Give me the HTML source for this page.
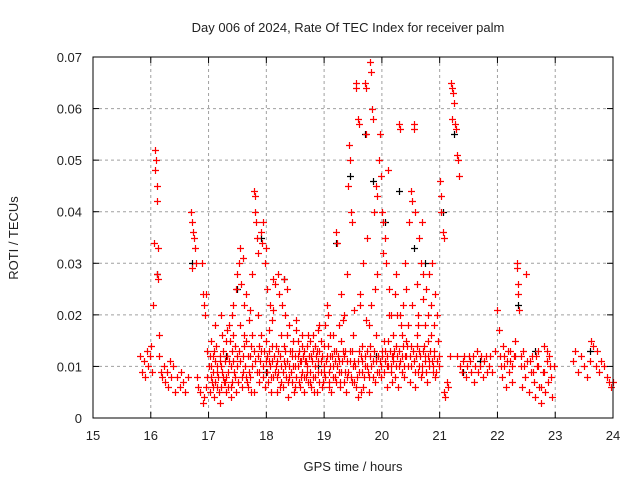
<!DOCTYPE html>
<html><head><meta charset="utf-8"><style>
body{margin:0;background:#fff}
svg text{font-family:"Liberation Sans",sans-serif;font-size:13px;fill:#222}
</style></head><body>
<svg width="640" height="480" id="c">
<text x="348" y="32" text-anchor="middle">Day 006 of 2024, Rate Of TEC Index for receiver palm</text>
<text x="353" y="471" text-anchor="middle">GPS time / hours</text>
<text transform="translate(18,238) rotate(-90)" text-anchor="middle">ROTI / TECUs</text>
<g id="grid"></g><g id="pts"></g><g id="axes"></g>
</svg>
<script>
const xTicks=[15,16,17,18,19,20,21,22,23,24];
const yTicks=[0,0.01,0.02,0.03,0.04,0.05,0.06,0.07];
const yTickLabels=["0","0.01","0.02","0.03","0.04","0.05","0.06","0.07"];
// red series: flattened [hour, roti] pairs
const redPts=[
15.82,0.012,15.85,0.009,15.88,0.011,15.9,0.008,15.93,0.013,15.95,0.01,15.98,0.012,16.0,0.014,16.02,0.009,16.03,0.022,16.05,0.034,16.08,0.052,16.09,0.05,16.08,0.048,16.1,0.045,16.11,0.042,16.12,0.033,16.1,0.028,16.13,0.027,16.14,0.016,16.15,0.012,16.18,0.009,16.2,0.008,16.23,0.01,16.25,0.007,16.28,0.009,16.3,0.006,16.33,0.011,16.35,0.008,16.38,0.01,16.42,0.005,16.45,0.008,16.5,0.006,16.52,0.009,16.55,0.007,16.6,0.005,16.65,0.008,16.7,0.04,16.72,0.038,16.73,0.036,16.75,0.035,16.77,0.033,16.72,0.029,16.78,0.03,16.8,0.008,16.82,0.006,16.85,0.005,16.88,0.03,16.9,0.024,16.92,0.022,16.93,0.02,16.95,0.024,16.98,0.013,
16.9,0.003,16.92,0.004,16.95,0.006,16.97,0.008,17.0,0.01,17.02,0.005,17.03,0.012,17.05,0.015,17.06,0.007,17.08,0.009,17.1,0.004,17.12,0.011,17.13,0.014,17.15,0.006,17.17,0.008,17.2,0.003,17.22,0.01,17.23,0.016,17.25,0.013,17.27,0.007,17.3,0.005,17.32,0.012,17.33,0.009,17.35,0.018,17.37,0.015,17.38,0.004,17.4,0.02,17.42,0.022,17.43,0.011,17.45,0.008,17.47,0.025,17.5,0.028,17.52,0.03,17.53,0.013,17.55,0.033,17.57,0.026,17.58,0.006,17.6,0.031,17.62,0.016,17.63,0.01,17.65,0.024,17.67,0.007,17.7,0.019,17.72,0.012,17.74,0.005,17.75,0.028,17.78,0.044,17.8,0.043,17.81,0.04,17.82,0.038,17.83,0.035,17.85,0.032,17.87,0.014,17.88,0.009,17.9,0.036,17.92,0.034,17.95,0.038,17.97,0.03,18.0,0.033,18.02,0.012,18.03,0.007,18.05,0.017,18.07,0.022,18.08,0.005,18.1,0.011,18.12,0.027,18.15,0.026,18.17,0.014,18.18,0.008,18.2,0.028,18.22,0.024,18.23,0.006,18.25,0.016,18.27,0.022,18.3,0.027,18.32,0.01,18.33,0.013,18.35,0.025,18.37,0.004,18.4,0.018,18.42,0.009,18.45,0.012,18.47,0.015,18.5,0.006,18.52,0.019,18.55,0.01,18.57,0.013,18.6,0.008,18.62,0.016,18.65,0.005,18.67,0.011,18.7,0.014,18.72,0.007,18.75,0.009,18.77,0.012,18.8,0.016,18.82,0.005,18.85,0.01,18.87,0.013,18.9,0.017,18.92,0.007,18.95,0.011,18.97,0.006,19.0,0.014,19.02,0.018,19.05,0.022,19.07,0.02,19.08,0.009,19.1,0.012,19.12,0.005,19.15,0.016,19.17,0.013,19.2,0.036,19.22,0.034,19.23,0.01,19.25,0.018,19.27,0.007,19.3,0.024,19.32,0.013,19.35,0.02,19.37,0.009,19.4,0.028,19.42,0.045,19.43,0.053,19.45,0.05,19.47,0.04,19.48,0.038,19.5,0.016,19.52,0.011,19.55,0.065,19.56,0.064,19.58,0.058,19.6,0.057,19.62,0.022,19.63,0.005,19.65,0.014,19.67,0.03,19.7,0.065,19.72,0.064,19.73,0.055,19.75,0.035,19.77,0.018,19.78,0.008,19.8,0.069,19.82,0.067,19.83,0.06,19.85,0.058,19.87,0.04,19.88,0.025,19.9,0.045,19.92,0.043,19.93,0.012,19.95,0.05,19.97,0.055,19.98,0.047,20.0,0.04,20.02,0.038,20.03,0.015,20.05,0.035,20.07,0.03,20.08,0.01,20.1,0.048,20.12,0.025,20.15,0.02,20.17,0.012,20.2,0.016,20.22,0.008,20.25,0.028,20.27,0.02,20.3,0.057,20.32,0.056,20.33,0.018,20.35,0.012,20.37,0.022,20.4,0.03,20.42,0.015,20.45,0.01,20.47,0.038,20.5,0.044,20.52,0.042,20.55,0.057,20.56,0.056,20.58,0.04,20.6,0.026,20.62,0.02,20.63,0.009,20.65,0.035,20.67,0.03,20.7,0.038,20.72,0.028,20.73,0.014,20.75,0.018,20.77,0.025,20.8,0.02,20.82,0.011,20.85,0.016,20.87,0.03,20.9,0.013,20.92,0.008,20.95,0.011,20.97,0.015,21.0,0.046,21.02,0.043,21.03,0.04,21.05,0.036,21.07,0.035,21.08,0.005,21.1,0.004,21.12,0.007,21.15,0.006,21.18,0.012,21.2,0.065,21.22,0.064,21.23,0.063,21.25,0.061,21.22,0.058,21.27,0.057,21.28,0.056,21.3,0.051,21.32,0.05,21.33,0.047,21.3,0.012,21.35,0.01,21.38,0.009,21.4,0.011,21.45,0.008,21.5,0.012,21.55,0.009,21.6,0.007,21.65,0.013,21.7,0.01,21.75,0.008,21.8,0.012,21.85,0.01,21.9,0.009,21.95,0.013,22.0,0.021,22.02,0.017,22.05,0.012,22.08,0.008,22.1,0.014,22.12,0.01,22.15,0.006,22.18,0.013,22.2,0.009,22.22,0.011,22.25,0.007,22.28,0.012,22.3,0.015,22.33,0.03,22.34,0.029,22.35,0.026,22.36,0.024,22.37,0.021,22.4,0.01,22.42,0.006,22.45,0.013,22.48,0.008,22.5,0.028,22.52,0.011,22.55,0.005,22.58,0.009,22.6,0.012,22.63,0.007,22.65,0.004,22.68,0.01,22.7,0.013,22.72,0.006,22.75,0.003,22.78,0.009,22.8,0.014,22.82,0.005,22.85,0.011,22.88,0.007,22.9,0.012,22.93,0.008,22.95,0.004,22.98,0.01,23.3,0.011,23.35,0.013,23.4,0.009,23.45,0.012,23.5,0.01,23.55,0.008,23.6,0.011,23.62,0.015,23.65,0.014,23.7,0.01,23.72,0.013,23.75,0.009,23.8,0.011,23.85,0.01,23.9,0.008,23.93,0.007,23.97,0.006,24.0,0.007,
17.05,0.01,17.1,0.013,17.15,0.009,17.2,0.012,17.25,0.008,17.3,0.015,17.35,0.011,17.4,0.007,17.45,0.014,17.5,0.01,17.55,0.018,17.6,0.012,17.65,0.015,17.7,0.009,17.75,0.016,17.8,0.011,17.85,0.02,17.9,0.013,17.95,0.008,18.0,0.015,18.05,0.011,18.1,0.019,18.15,0.009,18.2,0.013,18.25,0.007,18.3,0.011,18.35,0.016,18.4,0.008,18.45,0.013,18.5,0.01,18.55,0.015,18.6,0.011,18.65,0.013,18.7,0.009,18.75,0.015,18.8,0.008,18.85,0.014,18.9,0.011,18.95,0.015,19.0,0.009,19.05,0.012,19.1,0.016,19.15,0.01,19.2,0.013,19.25,0.009,19.3,0.015,19.35,0.012,19.4,0.008,19.45,0.013,19.5,0.01,19.55,0.006,19.6,0.013,19.65,0.009,19.7,0.012,19.75,0.01,19.8,0.014,19.85,0.011,19.9,0.016,19.95,0.009,20.0,0.013,20.05,0.011,20.1,0.015,20.15,0.01,20.2,0.012,20.25,0.014,20.3,0.01,20.35,0.016,20.4,0.012,20.45,0.018,20.5,0.014,20.55,0.011,20.6,0.016,20.65,0.013,20.7,0.01,20.75,0.012,20.8,0.015,20.85,0.022,20.9,0.018,20.95,0.02,
17.08,0.006,17.18,0.005,17.28,0.007,17.38,0.006,17.48,0.005,17.58,0.008,17.68,0.006,17.78,0.005,17.88,0.007,17.98,0.006,18.08,0.008,18.18,0.005,18.28,0.006,18.38,0.007,18.48,0.005,18.58,0.006,18.68,0.008,18.78,0.006,18.88,0.005,18.98,0.007,19.08,0.006,19.18,0.008,19.28,0.006,19.38,0.005,19.48,0.007,19.58,0.004,19.68,0.006,19.78,0.005,19.88,0.007,19.98,0.008,20.08,0.006,20.18,0.007,20.28,0.006,20.38,0.008,20.48,0.007,20.58,0.006,20.68,0.008,20.78,0.007,20.88,0.009,20.98,0.01,
17.12,0.018,17.22,0.02,17.32,0.017,17.42,0.016,17.62,0.022,17.72,0.021,18.02,0.025,18.12,0.021,18.32,0.02,18.52,0.017,18.62,0.014,18.72,0.016,18.92,0.018,19.32,0.019,19.52,0.021,19.62,0.024,19.72,0.019,19.82,0.022,19.92,0.028,20.02,0.032,20.12,0.02,20.22,0.024,20.32,0.02,20.42,0.025,20.52,0.022,20.62,0.018,20.72,0.023,20.82,0.028,20.92,0.024,
17.04,0.008,17.07,0.012,17.11,0.007,17.14,0.01,17.19,0.011,17.21,0.006,17.24,0.009,17.29,0.011,17.31,0.008,17.34,0.006,17.39,0.01,17.41,0.013,17.44,0.009,17.49,0.012,17.51,0.007,17.54,0.011,17.59,0.009,17.61,0.014,17.64,0.008,17.69,0.012,17.71,0.008,17.73,0.014,17.76,0.01,17.79,0.013,17.84,0.009,17.86,0.012,17.89,0.011,17.91,0.016,17.94,0.01,17.96,0.013,17.99,0.011,18.01,0.009,18.04,0.013,18.06,0.01,18.09,0.014,18.11,0.008,18.14,0.012,18.16,0.01,18.19,0.011,18.21,0.009,18.24,0.012,18.26,0.01,18.29,0.009,18.31,0.014,18.34,0.008,18.36,0.011,18.39,0.01,18.41,0.013,18.44,0.007,18.46,0.01,18.49,0.012,18.51,0.008,18.54,0.012,18.56,0.007,18.59,0.011,18.61,0.009,18.64,0.012,18.66,0.008,18.69,0.011,18.71,0.01,18.74,0.012,18.76,0.007,18.79,0.011,18.81,0.013,18.84,0.008,18.86,0.012,18.89,0.009,18.91,0.013,18.94,0.009,18.96,0.012,18.99,0.01,19.01,0.008,19.04,0.011,19.06,0.014,19.09,0.007,19.11,0.01,19.14,0.012,19.16,0.008,19.19,0.011,19.21,0.007,19.24,0.012,19.26,0.011,19.29,0.009,19.31,0.011,19.34,0.007,19.36,0.013,19.39,0.011,19.41,0.009,19.44,0.011,19.46,0.008,19.49,0.013,19.51,0.007,19.54,0.01,19.57,0.008,19.59,0.011,19.61,0.009,19.64,0.012,19.66,0.011,19.69,0.008,19.71,0.01,19.74,0.013,19.76,0.009,19.79,0.012,19.81,0.01,19.84,0.008,19.86,0.013,19.89,0.011,19.91,0.009,19.94,0.012,19.96,0.011,19.99,0.01,20.01,0.012,20.04,0.009,20.06,0.013,20.09,0.012,20.11,0.01,20.14,0.013,20.16,0.009,20.19,0.011,20.21,0.013,20.24,0.01,20.26,0.012,20.29,0.013,20.31,0.011,20.34,0.009,20.36,0.014,20.39,0.01,20.41,0.012,20.44,0.014,20.46,0.01,20.49,0.012,20.51,0.01,20.54,0.013,20.57,0.009,20.59,0.012,20.61,0.014,20.64,0.01,20.66,0.012,20.69,0.009,20.71,0.013,20.74,0.011,20.76,0.009,20.79,0.012,20.81,0.01,20.84,0.013,20.86,0.011,20.89,0.01,20.91,0.012,20.94,0.009,20.96,0.011,20.99,0.012,
21.42,0.012,21.47,0.01,21.52,0.011,21.57,0.012,21.62,0.01,21.67,0.009,21.72,0.012,21.77,0.011,21.82,0.009,21.87,0.012,22.06,0.01,22.11,0.012,22.16,0.011,22.21,0.013,22.26,0.01,22.31,0.012,22.41,0.012,22.46,0.01,22.56,0.011,22.61,0.009,22.66,0.012,22.71,0.01,22.76,0.006,22.81,0.009,22.86,0.013,22.91,0.01
];
// black series (partially hidden beneath red)
const blackPts=[16.1,0.028,16.72,0.03,17.5,0.025,17.9,0.035,18.3,0.027,19.2,0.034,19.45,0.047,19.7,0.055,19.85,0.046,20.05,0.038,20.3,0.044,20.55,0.033,20.75,0.03,21.05,0.04,21.25,0.055,21.4,0.009,21.7,0.011,22.35,0.022,22.65,0.013,23.6,0.013,18.9,0.01,17.3,0.012,18.0,0.009,19.9,0.012];
const X0=93,X1=613,Y0=418,Y1=57;
const sx=h=>X0+(h-15)/9*(X1-X0);
const sy=v=>Y0-v/0.07*(Y0-Y1);
const NS="http://www.w3.org/2000/svg";
function mk(t,a,p){const e=document.createElementNS(NS,t);for(const k in a)e.setAttribute(k,a[k]);p.appendChild(e);return e;}
const grid=document.getElementById('grid'),axes=document.getElementById('axes'),pts=document.getElementById('pts');
xTicks.forEach((t,i)=>{const x=sx(t);
 if(i>0&&i<xTicks.length-1){const l=mk('line',{x1:x,x2:x,y1:Y1,y2:Y0,stroke:'#a0a0a0','stroke-dasharray':'3,3'},grid);
 
 }
 mk('line',{x1:x,x2:x,y1:Y0,y2:Y0-6,stroke:'#000'},axes);mk('line',{x1:x,x2:x,y1:Y1,y2:Y1+6,stroke:'#000'},axes);
 const tx=mk('text',{x:x,y:Y0+22,'text-anchor':'middle'},axes);tx.textContent=t;
 
 });
yTicks.forEach((t,i)=>{const y=sy(t);
 if(i>0&&i<yTicks.length-1){const l=mk('line',{x1:X0,x2:X1,y1:y,y2:y,stroke:'#a0a0a0','stroke-dasharray':'3,3'},grid);
 
 }
 mk('line',{x1:X0,x2:X0+6,y1:y,y2:y,stroke:'#000'},axes);mk('line',{x1:X1,x2:X1-6,y1:y,y2:y,stroke:'#000'},axes);
 const tx=mk('text',{x:X0-11,y:y+5,'text-anchor':'end'},axes);tx.textContent=yTickLabels[i];
 
 });
const fr=mk('rect',{x:X0,y:Y1,width:X1-X0,height:Y0-Y1,fill:'none',stroke:'#000'},axes);


function plot(arr,col,name){let d='';for(let i=0;i<arr.length;i+=2){const x=Math.round(sx(arr[i]))+.5,y=Math.round(sy(arr[i+1]))+.5;d+=`M${x-3.5},${y}h7M${x},${y-3.5}v7`;}
 const p=mk('path',{d:d,stroke:col,'stroke-width':1.2,fill:'none'},pts);
 
 }
plot(blackPts,'#000','series-black-points');
plot(redPts,'#f00','series-red-points');
</script>
</body></html>
